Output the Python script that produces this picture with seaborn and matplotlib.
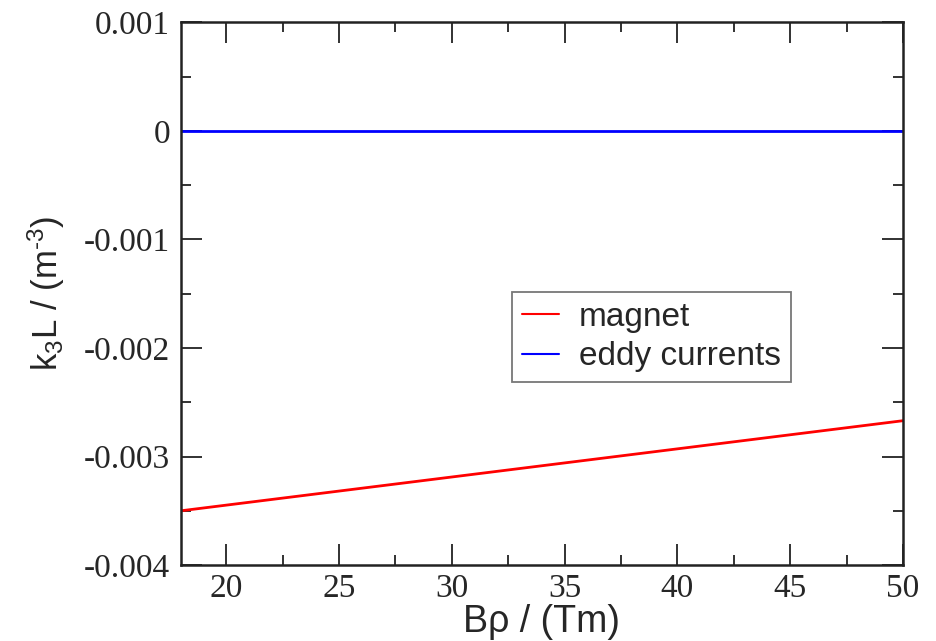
import numpy as np
import pandas as pd
import matplotlib
matplotlib.use("Agg")
import matplotlib.pyplot as plt
import seaborn as sns
from matplotlib.ticker import MultipleLocator

# Integrated octupole strength vs. magnetic rigidity
b_rho = [18, 50]
magnet_k3l = [-0.00350, -0.00267]
eddy_k3l = [0.0, 0.0]

series_names = ["magnet", "eddy currents"]
series_colors = ["#ff0000", "#0000ff"]

ytick_vals = [0.001, 0, -0.001, -0.002, -0.003, -0.004]
ytick_labels = ["0.001", "0", "-0.001", "-0.002", "-0.003", "-0.004"]

df = pd.concat([
    pd.DataFrame({"Brho": b_rho, "k3L": magnet_k3l, "source": series_names[0]}),
    pd.DataFrame({"Brho": b_rho, "k3L": eddy_k3l, "source": series_names[1]}),
])

sns.set_style("ticks")
plt.rcParams["font.family"] = ["Liberation Sans", "DejaVu Sans"]
plt.rcParams["mathtext.fontset"] = "custom"
plt.rcParams["mathtext.rm"] = "Liberation Sans"
plt.rcParams["mathtext.it"] = "Liberation Sans"

fig = plt.figure(figsize=(9.36, 6.41), dpi=100)
ax = fig.add_axes([0.1934, 0.1185, 0.7713, 0.8465])

sns.lineplot(data=df, x="Brho", y="k3L", hue="source",
             palette=dict(zip(series_names, series_colors)),
             linewidth=2, ax=ax)

ax.set_xlim(18, 50)
ax.set_ylim(-0.004, 0.001)
ax.xaxis.set_major_locator(MultipleLocator(5))
ax.xaxis.set_minor_locator(MultipleLocator(2.5))
ax.set_yticks(ytick_vals)
ax.set_yticklabels(ytick_labels)
ax.yaxis.set_minor_locator(MultipleLocator(0.0005))

for spine in ax.spines.values():
    spine.set_visible(True)
    spine.set_linewidth(1.8)
    spine.set_color("#222222")

ax.tick_params(which="both", direction="in", top=True, right=True, width=1.3, color="#222222")
ax.tick_params(which="major", length=15)
ax.tick_params(which="minor", length=7)
for lbl in ax.get_xticklabels() + ax.get_yticklabels():
    lbl.set_family("Liberation Serif")
    lbl.set_fontsize(24)
ax.tick_params(axis="x", pad=6)
ax.tick_params(axis="y", pad=8)

ax.set_xlabel("B\u03c1 / (Tm)", fontsize=27, labelpad=0)
ax.set_ylabel("k$_3$L / (m$^{\\text{-}3}$)", fontsize=25, labelpad=12)

leg = ax.legend(loc="upper left", bbox_to_anchor=(0.459, 0.503), fontsize=24,
                frameon=True, fancybox=False, handlelength=1.1, handletextpad=0.6,
                borderpad=0.3, labelspacing=0.25, borderaxespad=0)
leg.get_frame().set_edgecolor("#555555")
leg.get_frame().set_linewidth(1.3)
for line in leg.get_lines():
    line.set_linewidth(1.5)

fig.savefig("out.png", dpi=100)
